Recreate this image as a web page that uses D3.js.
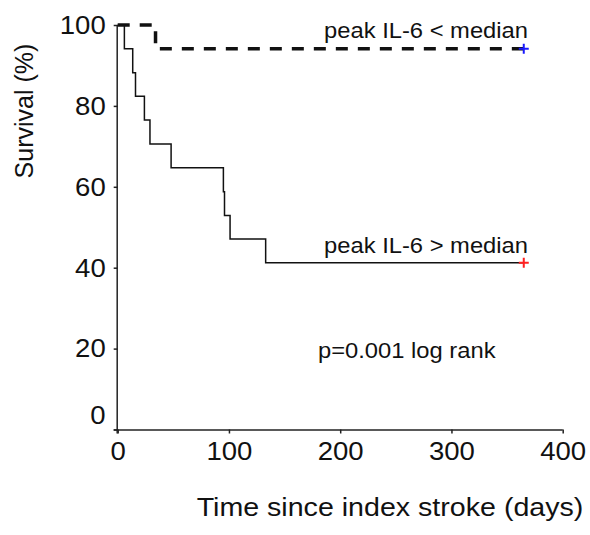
<!DOCTYPE html>
<html>
<head>
<meta charset="utf-8">
<script src="https://cdn.jsdelivr.net/npm/d3@7"></script>
<style>
  body { margin: 0; background: #fff; }
  text { font-family: "Liberation Sans", Arial, sans-serif; fill: #111; }
</style>
</head>
<body>
<svg id="chart" width="590" height="535"></svg>
<script>
// Kaplan-Meier steps: [day, survival %]
const lowGroupDays = [0, 34, 365];
const lowGroupSurv = [100, 94.1, 94.1];
const highGroupDays = [0, 6, 13.5, 16, 24, 29, 48, 95, 96, 101, 133, 365];
const highGroupSurv = [100, 94.1, 88.2, 82.4, 76.5, 70.6, 64.7, 58.8, 52.9, 47.1, 41.2, 41.2];
const censorDay = 365;
const xTicks = [0, 100, 200, 300, 400];
const yTicks = [0, 20, 40, 60, 80, 100];
const labels = ["peak IL-6 < median", "peak IL-6 > median", "p=0.001 log rank"];

const svg = d3.select("#chart");
const x = d3.scaleLinear().domain([0, 400]).range([117.7, 562.7]);
const y = d3.scaleLinear().domain([0, 100]).range([429.5, 25]);

// horizontally stretch text about its anchor x
function stretch(sel, sx) {
  sel.each(function() {
    const t = d3.select(this);
    const ax = +t.attr("x") || 0;
    t.attr("transform", `translate(${ax},0) scale(${sx},1) translate(${-ax},0)`);
  });
}

// axes
const xAxis = d3.axisBottom(x).tickValues(xTicks).tickSizeOuter(0).tickSize(4).tickPadding(8);
const gx = svg.append("g").attr("transform", `translate(0,${y(0)})`).call(xAxis);
gx.select(".domain").attr("d", `M${x(0) - 4},0.5H${x(400)}`);
const yAxis = d3.axisLeft(y).tickValues(yTicks).tickSizeOuter(0).tickSize(4).tickPadding(8);
const gy = svg.append("g").attr("transform", `translate(${x(0)},0)`).call(yAxis);
gy.select(".domain").attr("d", `M-0.5,${y(100)}V${y(0) + 4}`);
[gx, gy].forEach(g => {
  g.selectAll(".domain").attr("stroke", "#222").attr("stroke-width", 1.5);
  g.selectAll(".tick line").attr("stroke", "#222").attr("stroke-width", 1.5);
  g.selectAll(".tick text").style("font-size", "26px").attr("font-family", "Liberation Sans, Arial, sans-serif").attr("fill", "#111");
  stretch(g.selectAll(".tick text"), 1.06);
});
gy.selectAll(".tick").filter(d => d === 0).select("text").attr("dy", "-0.25em");

function steps(days, surv) {
  return days.map((d, i) => [d, surv[i]]);
}
const line = d3.line().x(d => x(d[0])).y(d => y(d[1])).curve(d3.curveStepAfter);

// high group (solid)
svg.append("path").datum(steps(highGroupDays, highGroupSurv))
  .attr("d", line).attr("fill", "none").attr("stroke", "#111").attr("stroke-width", 1.5);
// low group (dashed)
svg.append("path").datum(steps(lowGroupDays, lowGroupSurv))
  .attr("d", line).attr("fill", "none").attr("stroke", "#111").attr("stroke-width", 3.5)
  .attr("stroke-dasharray", "12,10");

// censor marks
function plus(cx, cy, color) {
  svg.append("path").attr("d", `M${cx - 5},${cy}H${cx + 5}M${cx},${cy - 5}V${cy + 5}`)
    .attr("stroke", color).attr("stroke-width", 2);
}
plus(x(censorDay), y(lowGroupSurv[lowGroupSurv.length - 1]), "#1a1aff");
plus(x(censorDay), y(highGroupSurv[highGroupSurv.length - 1]), "#ff2020");

// annotations
const ann = svg.append("g");
ann.append("text").attr("x", 528).attr("y", 38).attr("text-anchor", "end").style("font-size", "22px").text(labels[0]);
ann.append("text").attr("x", 528).attr("y", 253).attr("text-anchor", "end").style("font-size", "22px").text(labels[1]);
ann.append("text").attr("x", 318).attr("y", 358).style("font-size", "22px").text(labels[2]);
stretch(ann.selectAll("text"), 1.08);

// axis titles
svg.append("text").attr("transform", "translate(33,111) rotate(-90)").attr("text-anchor", "middle")
  .style("font-size", "25px").text("Survival (%)");
const xt = svg.append("text").attr("x", 390).attr("y", 516).attr("text-anchor", "middle")
  .style("font-size", "26px").text("Time since index stroke (days)");
stretch(xt, 1.1);
</script>
</body>
</html>
